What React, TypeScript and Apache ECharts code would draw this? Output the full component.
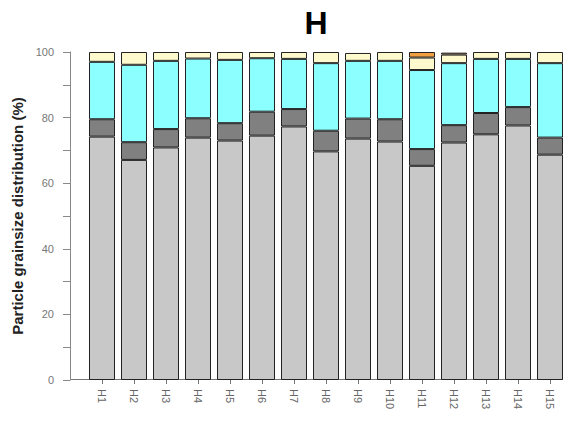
import React, { useEffect, useRef } from "react";
import * as echarts from "echarts";

const categories = ["H1","H2","H3","H4","H5","H6","H7","H8","H9","H10","H11","H12","H13","H14","H15"];
const lightGray = [74.2, 67.1, 70.9, 73.9, 73.0, 74.5, 77.3, 69.7, 73.6, 72.7, 65.3, 72.4, 74.9, 77.6, 68.7];
const darkGray = [5.3, 5.4, 5.6, 5.9, 5.3, 7.3, 5.3, 6.3, 6.1, 6.8, 5.1, 5.3, 6.5, 5.6, 5.2];
const cyan = [17.5, 23.6, 20.8, 18.2, 19.3, 16.3, 15.3, 20.6, 17.6, 17.8, 24.1, 18.9, 16.5, 14.7, 22.7];
const yellow = [3.0, 3.9, 2.7, 2.0, 2.4, 1.9, 2.1, 3.4, 2.4, 2.7, 3.8, 2.6, 2.1, 2.1, 3.4];
const orange = [null, null, null, null, null, null, null, null, null, null, 1.7, 0.6, null, null, null];
const yTicks = [0, 20, 40, 60, 80, 100];

const layers = [
  { name: "clay", data: lightGray, color: "#C8C8C8" },
  { name: "silt", data: darkGray, color: "#808080" },
  { name: "fine sand", data: cyan, color: "#8CFFFF" },
  { name: "sand", data: yellow, color: "#FFFACD" },
  { name: "gravel", data: orange, color: "#F0A040" },
];

export default function App() {
  const ref = useRef<HTMLDivElement>(null);
  useEffect(() => {
    if (!ref.current) return;
    const chart = echarts.init(ref.current, null, { renderer: "svg" });
    chart.setOption({
      animation: false,
      backgroundColor: "#ffffff",
      grid: { left: 86, right: 2, top: 52, bottom: 43, containLabel: false },
      graphic: [
        {
          type: "text",
          x: 316,
          y: 23,
          style: {
            text: "H",
            fontSize: 32,
            fontWeight: "bold",
            fontFamily: "Liberation Sans, Arial, sans-serif",
            fill: "#000",
            textAlign: "center",
            textVerticalAlign: "middle",
          },
        },
        {
          type: "line",
          shape: { x1: 70, y1: 379.5, x2: 563, y2: 379.5 },
          style: { stroke: "#777", lineWidth: 1 },
        },
      ],
      xAxis: {
        type: "category",
        data: categories,
        axisLine: { show: false },
        axisTick: { show: true, alignWithLabel: true, length: 4, lineStyle: { color: "#777" } },
        axisLabel: {
          rotate: -90,
          margin: 9,
          fontSize: 11,
          color: "#666",
          fontFamily: "Liberation Sans, Arial, sans-serif",
        },
      },
      yAxis: {
        type: "value",
        min: 0,
        max: 100,
        interval: 10,
        offset: 16,
        name: "Particle grainsize distribution (%)",
        nameLocation: "middle",
        nameGap: 44,
        nameTextStyle: {
          fontSize: 15,
          fontWeight: "bold",
          color: "#222",
          fontFamily: "Liberation Sans, Arial, sans-serif",
        },
        axisLine: { show: true, lineStyle: { color: "#888" } },
        axisTick: { show: true, length: 7, lineStyle: { color: "#888" } },
        splitLine: { show: false },
        axisLabel: {
          margin: 16,
          fontSize: 11,
          color: "#777",
          fontFamily: "Liberation Sans, Arial, sans-serif",
          formatter: (v: number) => (yTicks.includes(v) ? String(v) : ""),
        },
      },
      series: layers.map((l) => ({
        name: l.name,
        type: "bar",
        stack: "total",
        barWidth: 26,
        data: l.data.map((v) => (v == null ? "-" : v)),
        itemStyle: { color: l.color, borderColor: "#222", borderWidth: 1 },
      })),
    });
    return () => chart.dispose();
  }, []);
  return <div ref={ref} style={{ width: 568, height: 423, position: "absolute", left: 0, top: 0 }} />;
}
